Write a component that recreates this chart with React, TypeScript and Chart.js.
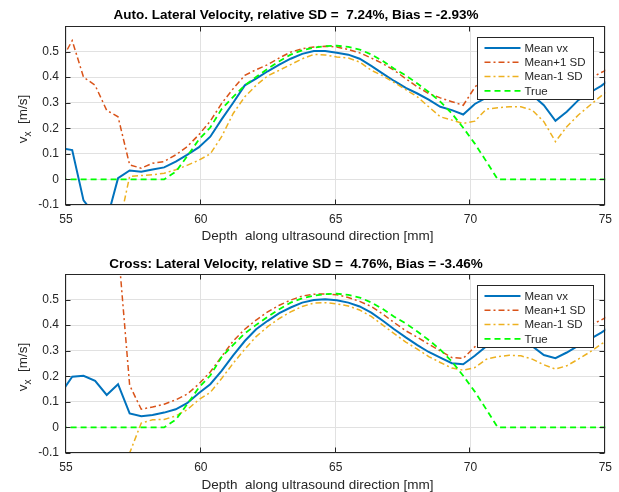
import React, { useEffect, useRef } from "react";
import { Chart, registerables } from "chart.js";

Chart.register(...registerables);

const depth = [
  54.8, 55.23, 55.65, 56.08, 56.51, 56.93, 57.36, 57.79, 58.21, 58.64,
  59.07, 59.49, 59.92, 60.35, 60.77, 61.2, 61.63, 62.05, 62.48, 62.91,
  63.33, 63.76, 64.19, 64.61, 65.04, 65.47, 65.89, 66.32, 66.75, 67.17,
  67.6, 68.03, 68.45, 68.88, 69.31, 69.73, 70.16, 70.59, 71.01, 71.44,
  71.87, 72.29, 72.72, 73.15, 73.57, 74.0, 74.43, 74.85, 75.28,
];

const autoMean = [
  0.122, 0.115, -0.082, -0.14, -0.16, 0.005, 0.035, 0.03, 0.039, 0.047,
  0.07, 0.096, 0.125, 0.167, 0.235, 0.3, 0.368, 0.394, 0.423, 0.449,
  0.472, 0.491, 0.502, 0.502, 0.495, 0.488, 0.472, 0.444, 0.414, 0.385,
  0.358, 0.336, 0.312, 0.284, 0.271, 0.254, 0.295, 0.32, 0.34, 0.345,
  0.34, 0.33, 0.29, 0.229, 0.265, 0.31, 0.34, 0.366, 0.4,
];
const autoPlus = [
  0.46, 0.543, 0.4, 0.368, 0.27, 0.245, 0.057, 0.044, 0.063, 0.07,
  0.096, 0.128, 0.174, 0.228, 0.297, 0.355, 0.407, 0.429, 0.449, 0.475,
  0.498, 0.511, 0.518, 0.521, 0.518, 0.508, 0.495, 0.475, 0.453, 0.427,
  0.394, 0.362, 0.336, 0.319, 0.304, 0.29, 0.36, 0.41, 0.41, 0.41,
  0.4, 0.39, 0.354, 0.32, 0.33, 0.368, 0.395, 0.418, 0.44,
];
const autoMinus = [
  -0.216, -0.313, -0.564, -0.648, -0.59, -0.2, 0.012, 0.015, 0.018, 0.024,
  0.038, 0.055, 0.075, 0.1, 0.167, 0.258, 0.323, 0.368, 0.405, 0.427,
  0.449, 0.472, 0.489, 0.487, 0.479, 0.475, 0.459, 0.427, 0.405, 0.379,
  0.351, 0.323, 0.284, 0.245, 0.232, 0.219, 0.228, 0.275, 0.28, 0.284,
  0.284, 0.271, 0.226, 0.148, 0.206, 0.252, 0.29, 0.327, 0.36,
];

const crossMean = [
  0.133, 0.198, 0.202, 0.182, 0.127, 0.169, 0.055, 0.044, 0.049, 0.058,
  0.071, 0.095, 0.134, 0.169, 0.221, 0.282, 0.338, 0.384, 0.417, 0.447,
  0.469, 0.488, 0.498, 0.501, 0.497, 0.488, 0.473, 0.449, 0.417, 0.384,
  0.352, 0.322, 0.295, 0.273, 0.251, 0.247, 0.28, 0.318, 0.328, 0.33,
  0.325, 0.318, 0.283, 0.271, 0.293, 0.32, 0.345, 0.371, 0.4,
];
const crossPlus = [
  0.95, 0.92, 0.9, 0.88, 0.85, 0.71, 0.165, 0.071, 0.08, 0.091,
  0.108, 0.13, 0.169, 0.217, 0.277, 0.338, 0.384, 0.42, 0.452, 0.478,
  0.498, 0.514, 0.521, 0.522, 0.519, 0.508, 0.493, 0.473, 0.443, 0.41,
  0.378, 0.352, 0.326, 0.299, 0.273, 0.27, 0.315, 0.368, 0.378, 0.378,
  0.37, 0.36, 0.325, 0.318, 0.346, 0.378, 0.4, 0.42, 0.445,
];
const crossMinus = [
  -0.3, -0.4, -0.45, -0.5, -0.55, -0.37, -0.1, 0.017, 0.03, 0.031,
  0.045, 0.069, 0.108, 0.137, 0.191, 0.251, 0.306, 0.355, 0.394, 0.426,
  0.452, 0.473, 0.486, 0.488, 0.483, 0.475, 0.459, 0.434, 0.4, 0.367,
  0.334, 0.306, 0.277, 0.254, 0.232, 0.224, 0.234, 0.267, 0.277, 0.282,
  0.28, 0.267, 0.245, 0.228, 0.241, 0.267, 0.295, 0.326, 0.355,
];

const trueVx = [
  0, 0, 0, 0, 0, 0, 0, 0, 0, 0,
  0.03, 0.09, 0.155, 0.203, 0.275, 0.323, 0.368, 0.401, 0.433, 0.462,
  0.488, 0.505, 0.515, 0.521, 0.523, 0.518, 0.508, 0.489, 0.463, 0.433,
  0.407, 0.375, 0.342, 0.304, 0.258, 0.202, 0.14, 0.07, 0, 0,
  0, 0, 0, 0, 0, 0, 0, 0, 0,
];

const xTicks = [55, 60, 65, 70, 75];
const yTicks = [-0.1, 0, 0.1, 0.2, 0.3, 0.4, 0.5];
const legendLabels = ["Mean vx", "Mean+1 SD", "Mean-1 SD", "True"];
const autoTitle = "Auto. Lateral Velocity, relative SD =  7.24%, Bias = -2.93%";
const crossTitle = "Cross: Lateral Velocity, relative SD =  4.76%, Bias = -3.46%";
const xLabel = "Depth  along ultrasound direction [mm]";

const FONT = '"Liberation Sans", Arial, Helvetica, sans-serif';
const INK = "#262626";
const GRID = "#e1e1e1";

const seriesStyle = [
  { color: "#0072BD", width: 2, dash: [] as number[] },
  { color: "#D95319", width: 1.5, dash: [6, 3, 2, 3] },
  { color: "#EDB120", width: 1.5, dash: [6, 3, 2, 3] },
  { color: "#00FF00", width: 1.8, dash: [6, 4] },
];

type PanelProps = {
  title: string;
  mean: number[];
  plus: number[];
  minus: number[];
  top: number;
  padTop: number;
  axisH: number;
  titleY: number;
  xLabelY: number;
};

function Panel(p: PanelProps) {
  const ref = useRef<HTMLCanvasElement>(null);
  useEffect(() => {
    const canvas = ref.current;
    if (!canvas) return;
    const pts = (arr: number[]) => depth.map((d, i) => ({ x: d, y: arr[i] }));
    const series = [p.mean, p.plus, p.minus, trueVx];

    const decor = {
      id: "decor",
      afterDatasetsDraw(chart: any) {
        const ctx = chart.ctx as CanvasRenderingContext2D;
        const a = chart.chartArea;
        const xs = chart.scales.x;
        const ys = chart.scales.y;
        ctx.save();
        ctx.strokeStyle = INK;
        ctx.lineWidth = 1;
        ctx.setLineDash([]);
        const L = Math.round(a.left) - 0.5;
        const R = Math.round(a.right) - 0.5;
        const T = Math.round(a.top) + 0.5;
        const B = Math.round(a.bottom) - 0.5;
        ctx.strokeRect(L, T, R - L, B - T);
        const tl = 5;
        ctx.beginPath();
        for (const v of xTicks) {
          const x = Math.round(xs.getPixelForValue(v)) - 0.5;
          ctx.moveTo(x, B);
          ctx.lineTo(x, B - tl);
          ctx.moveTo(x, T);
          ctx.lineTo(x, T + tl);
        }
        for (const v of yTicks) {
          const y = Math.round(ys.getPixelForValue(v)) + 0.5;
          ctx.moveTo(L, y);
          ctx.lineTo(L + tl, y);
          ctx.moveTo(R, y);
          ctx.lineTo(R - tl, y);
        }
        ctx.stroke();

        // legend
        const bw = 116;
        const bh = 62;
        const bx = Math.round(a.right - 12 - bw) + 0.5;
        const by = Math.round(a.top + 11) + 0.5;
        ctx.fillStyle = "#ffffff";
        ctx.fillRect(bx, by, bw, bh);
        ctx.strokeStyle = INK;
        ctx.lineWidth = 1;
        ctx.strokeRect(bx, by, bw, bh);
        ctx.font = `11.5px ${FONT}`;
        ctx.textBaseline = "middle";
        ctx.textAlign = "left";
        legendLabels.forEach((lab, i) => {
          const yy = by + 10.5 + i * 14.3;
          const st = seriesStyle[i];
          ctx.beginPath();
          ctx.strokeStyle = st.color;
          ctx.lineWidth = st.width;
          ctx.setLineDash(st.dash);
          ctx.moveTo(bx + 7, yy);
          ctx.lineTo(bx + 43, yy);
          ctx.stroke();
          ctx.setLineDash([]);
          ctx.fillStyle = INK;
          ctx.fillText(lab, bx + 47, yy + 0.5);
        });

        // title
        ctx.fillStyle = "#000000";
        ctx.font = `bold 13.5px ${FONT}`;
        ctx.textAlign = "center";
        ctx.textBaseline = "middle";
        ctx.fillText(p.title, 296, p.titleY);

        // x label
        ctx.fillStyle = INK;
        ctx.font = `13.5px ${FONT}`;
        ctx.fillText(xLabel, 317.5, p.xLabelY);

        // y label with subscript
        const cy = (a.top + a.bottom) / 2 + 3.5;
        ctx.translate(26.5, cy);
        ctx.rotate(-Math.PI / 2);
        ctx.textAlign = "left";
        ctx.textBaseline = "alphabetic";
        const big = `13.5px ${FONT}`;
        const small = `10px ${FONT}`;
        ctx.font = big;
        const wv = ctx.measureText("v").width;
        const wr = ctx.measureText("  [m/s]").width;
        ctx.font = small;
        const wx = ctx.measureText("x").width;
        const total = wv + wx + wr;
        let x0 = -total / 2;
        ctx.font = big;
        ctx.fillText("v", x0, 0);
        x0 += wv;
        ctx.font = small;
        ctx.fillText("x", x0, 4);
        x0 += wx;
        ctx.font = big;
        ctx.fillText("  [m/s]", x0, 0);
        ctx.restore();
      },
    };

    const chart = new Chart(canvas, {
      type: "line",
      data: {
        datasets: series.map((arr, i) => ({
          label: legendLabels[i],
          data: pts(arr),
          borderColor: seriesStyle[i].color,
          backgroundColor: seriesStyle[i].color,
          borderWidth: seriesStyle[i].width,
          borderDash: seriesStyle[i].dash,
          pointRadius: 0,
          fill: false,
          tension: 0,
          order: 4 - i,
        })),
      },
      options: {
        animation: false,
        responsive: false,
        devicePixelRatio: 1,
        layout: { padding: { top: p.padTop, right: 12, left: 0, bottom: 0 } },
        plugins: {
          legend: { display: false },
          tooltip: { enabled: false },
          title: { display: false },
        },
        scales: {
          x: {
            type: "linear",
            min: 55,
            max: 75,
            afterBuildTicks: (s: any) => {
              s.ticks = xTicks.map((v) => ({ value: v }));
            },
            afterFit: (s: any) => {
              s.height = p.axisH;
            },
            grid: { color: GRID, lineWidth: 1, drawTicks: false },
            border: { display: false },
            ticks: {
              padding: 7,
              color: INK,
              maxRotation: 0,
              font: { family: FONT, size: 12 },
              callback: (v: any) => String(v),
            },
          },
          y: {
            type: "linear",
            min: -0.1,
            max: 0.6,
            afterBuildTicks: (s: any) => {
              s.ticks = yTicks.map((v) => ({ value: v }));
            },
            afterFit: (s: any) => {
              s.width = 66;
            },
            grid: { color: GRID, lineWidth: 1, drawTicks: false },
            border: { display: false },
            ticks: {
              padding: 7,
              color: INK,
              font: { family: FONT, size: 12 },
              callback: (v: any) => String(Math.round(Number(v) * 10) / 10),
            },
          },
        },
      },
      plugins: [decor],
    } as any);
    return () => chart.destroy();
  }, []);
  return (
    <canvas
      ref={ref}
      width={619}
      height={246}
      style={{ position: "absolute", left: 0, top: p.top, width: 619, height: 246 }}
    />
  );
}

export default function App() {
  return (
    <div style={{ position: "absolute", left: 0, top: 0, width: 619, height: 492, background: "#ffffff" }}>
      <Panel title={autoTitle} mean={autoMean} plus={autoPlus} minus={autoMinus} top={0} padTop={26} axisH={41} titleY={15} xLabelY={236} />
      <Panel title={crossTitle} mean={crossMean} plus={crossPlus} minus={crossMinus} top={246} padTop={28} axisH={39} titleY={18.5} xLabelY={239} />
    </div>
  );
}
